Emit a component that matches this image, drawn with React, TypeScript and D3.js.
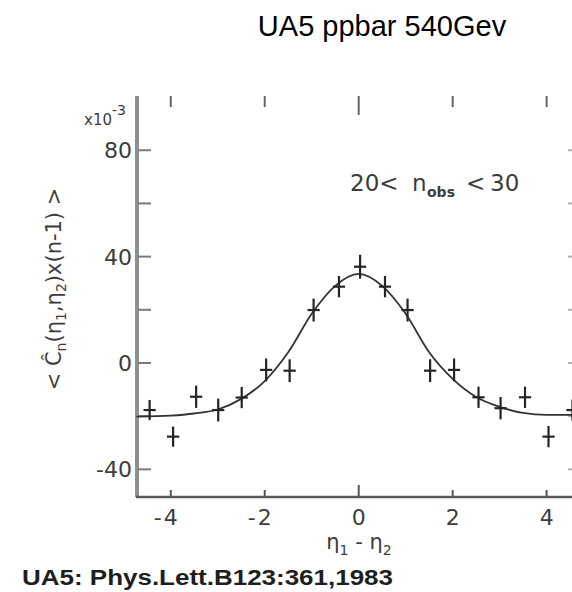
import React from 'react';
import * as d3 from 'd3';

// ---- data ----
const etaValues = [-4.45, -3.95, -3.46, -2.99, -2.49, -1.97, -1.47, -0.96, -0.42, 0.03, 0.56, 1.04, 1.52, 2.03, 2.55, 3.02, 3.54, 4.04, 4.55];
const corrValues = [-17.7, -27.7, -12.7, -17.7, -13.0, -2.6, -2.9, 19.9, 28.7, 36.2, 28.7, 19.9, -2.9, -2.6, -12.9, -17.0, -12.9, -27.7, -17.7];
const corrErrors = [3.8, 3.8, 4.2, 4.3, 4.0, 4.3, 4.3, 4.3, 4.0, 4.5, 4.0, 4.3, 4.3, 4.3, 4.0, 4.2, 4.0, 4.0, 4.0];
const etaHalfBin = 0.13;

const fitEta = [-4.73, -4.0, -3.5, -3.0, -2.5, -2.0, -1.5, -1.0, -0.5, 0.0, 0.5, 1.0, 1.5, 2.0, 2.5, 3.0, 3.5, 4.0, 4.54];
const fitValues = [-20.2, -19.8, -19.0, -17.5, -13.5, -6.8, 4.0, 18.5, 29.0, 33.5, 29.0, 18.5, 4.0, -6.0, -12.8, -16.5, -18.8, -19.5, -19.5];

const xTicks = [-4, -2, 0, 2, 4];
const yTicks = [-40, -20, 0, 20, 40, 60, 80];
const yLabelTicks = [-40, 0, 40, 80];

const titleText = 'UA5 ppbar 540Gev';
const citationText = 'UA5: Phys.Lett.B123:361,1983';

const W = 572;
const H = 592;
const plot = { left: 136, right: 572, top: 96, bottom: 497 };
const ink = '#252525';
const labelInk = '#3c3c3c';
const tickFont = '"DejaVu Sans", sans-serif';

export default function App() {
  const x = d3.scaleLinear().domain([-4.74, 4.54]).range([plot.left, plot.right]);
  const y = d3.scaleLinear().domain([-50.4, 100.4]).range([plot.bottom, plot.top]);
  const line = d3
    .line<[number, number]>()
    .x((d) => x(d[0]))
    .y((d) => y(d[1]))
    .curve(d3.curveMonotoneX);
  const fitPath = line(fitEta.map((e, i) => [e, fitValues[i]] as [number, number])) || '';

  return (
    <svg
      width={W}
      height={H}
      viewBox={`0 0 ${W} ${H}`}
      style={{ position: 'absolute', left: 0, top: 0, background: '#fff' }}
    >
      <rect x={0} y={0} width={W} height={H} fill="#fff" />

      {/* title */}
      <text
        x={382}
        y={36}
        textAnchor="middle"
        fontFamily='"Liberation Sans", Arial, sans-serif'
        fontSize={29}
        fill="#000"
      >
        {titleText}
      </text>

      {/* axes */}
      <line x1={plot.left + 1} x2={plot.left + 1} y1={plot.top} y2={plot.bottom} stroke="#8f8f8f" strokeWidth={4} />
      <line x1={plot.left} x2={plot.right} y1={plot.bottom} y2={plot.bottom} stroke="#5a5a5a" strokeWidth={2.5} />

      {/* left ticks */}
      {yTicks.map((t) => (
        <line key={'yl' + t} x1={plot.left + 2} x2={plot.left + 15} y1={y(t)} y2={y(t)} stroke="#7a7a7a" strokeWidth={2} />
      ))}
      {/* right ticks */}
      {yTicks.map((t) => (
        <line key={'yr' + t} x1={plot.right - 4} x2={plot.right} y1={y(t)} y2={y(t)} stroke="#b0b0b0" strokeWidth={2} />
      ))}
      {/* bottom ticks */}
      {xTicks.map((t) => (
        <line key={'xb' + t} x1={x(t)} x2={x(t)} y1={plot.bottom} y2={plot.bottom - (t === 0 ? 12 : 7)} stroke="#555" strokeWidth={2} />
      ))}
      {/* top ticks */}
      {xTicks.map((t) => (
        <line key={'xt' + t} x1={x(t)} x2={x(t)} y1={plot.top} y2={plot.top + (t === 0 ? 19 : 11)} stroke="#666" strokeWidth={2} />
      ))}

      {/* y tick labels */}
      {yLabelTicks.map((t) => (
        <text key={'ylab' + t} x={132} y={y(t) + 8} textAnchor="end" fontFamily={tickFont} fontSize={22} fill={labelInk}>
          {String(t)}
        </text>
      ))}
      {/* x10^-3 */}
      <text x={84} y={125} fontFamily={tickFont} fontSize={15} fill={labelInk}>
        x10
        <tspan dy={-10} fontSize={14}>-3</tspan>
      </text>

      {/* x tick labels */}
      {xTicks.map((t) => (
        <g key={'xlab' + t}>
          <text x={x(t)} y={525} textAnchor="middle" fontFamily={tickFont} fontSize={22} fill={labelInk}>
            {String(Math.abs(t))}
          </text>
          {t < 0 && (
            <text x={x(t) - 9} y={525} textAnchor="end" fontFamily={tickFont} fontSize={22} fill={labelInk}>
              -
            </text>
          )}
        </g>
      ))}

      {/* x axis title */}
      <text x={359} y={549} textAnchor="middle" fontFamily={tickFont} fontSize={21} fill={labelInk}>
        η<tspan dy={6} fontSize={14}>1</tspan>
        <tspan dy={-6}> - η</tspan>
        <tspan dy={6} fontSize={14}>2</tspan>
      </text>

      {/* y axis title */}
      <text
        transform="translate(61,289) rotate(-90)"
        textAnchor="middle"
        fontFamily={tickFont}
        fontSize={21}
        fill={labelInk}
      >
        {'< Ĉ'}
        <tspan dy={5} fontSize={14}>n</tspan>
        <tspan dy={-5}>(η</tspan>
        <tspan dy={5} fontSize={14}>1</tspan>
        <tspan dy={-5}>,η</tspan>
        <tspan dy={5} fontSize={14}>2</tspan>
        <tspan dy={-5}>{')x(n-1) >'}</tspan>
      </text>

      {/* annotation */}
      <text y={191} fontFamily={tickFont} fontSize={23} fill={labelInk}>
        <tspan x={350}>{'20<'}</tspan>
        <tspan x={412}>n</tspan>
        <tspan x={427} dy={6} fontSize={14} fontWeight="bold">obs</tspan>
        <tspan x={466} dy={-6}>{'<'}</tspan>
        <tspan x={490}>30</tspan>
      </text>

      {/* fit curve */}
      <path d={fitPath} fill="none" stroke="#333" strokeWidth={1.8} />

      {/* data points */}
      {etaValues.map((e, i) => (
        <g key={'pt' + i} stroke={ink} strokeWidth={2.2}>
          <line x1={x(e)} x2={x(e)} y1={y(corrValues[i] - corrErrors[i])} y2={y(corrValues[i] + corrErrors[i])} />
          <line x1={x(e - etaHalfBin)} x2={x(e + etaHalfBin)} y1={y(corrValues[i])} y2={y(corrValues[i])} />
        </g>
      ))}

      {/* citation */}
      <text
        x={22}
        y={585}
        fontFamily='"Liberation Sans", Arial, sans-serif'
        fontWeight="bold"
        fontSize={22}
        textLength={371}
        lengthAdjust="spacingAndGlyphs"
        fill="#1e1e1e"
      >
        {citationText}
      </text>
    </svg>
  );
}
